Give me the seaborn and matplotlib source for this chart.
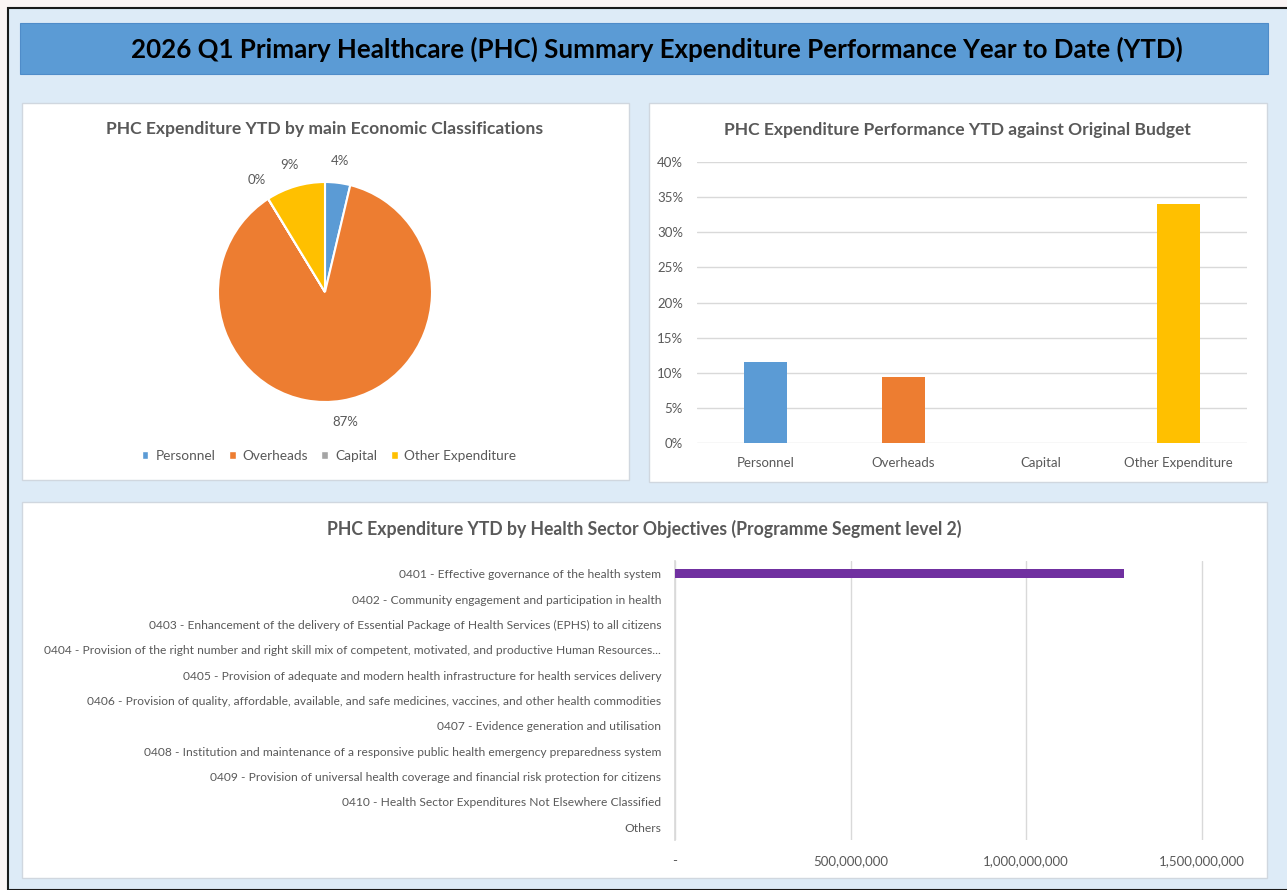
import numpy as np
import pandas as pd
import seaborn as sns
import matplotlib
matplotlib.use('Agg')
import matplotlib.pyplot as plt
from matplotlib.patches import Rectangle, Patch

sns.set_theme(style='white')
plt.rcParams['font.family'] = ['Lato', 'DejaVu Sans']

# 数据
econ_cats = ['Personnel', 'Overheads', 'Capital', 'Other Expenditure']
econ_share = [3.8, 87.3, 0.02, 8.9]          # % of YTD spend
econ_perf = [0.115, 0.094, 0.0, 0.340]       # YTD vs original budget
econ_colors = ['#5B9BD5', '#ED7D31', '#A5A5A5', '#FFC000']

objectives = [
    '0401 - Effective governance of the health system',
    '0402 - Community engagement and participation in health',
    '0403 - Enhancement of the delivery of Essential Package of Health Services (EPHS) to all citizens',
    '0404 - Provision of the right number and right skill mix of competent, motivated, and productive Human Resources...',
    '0405 - Provision of adequate and modern health infrastructure for health services delivery',
    '0406 - Provision of quality, affordable, available, and safe medicines, vaccines, and other health commodities',
    '0407 - Evidence generation and utilisation',
    '0408 - Institution and maintenance of a responsive public health emergency preparedness system',
    '0409 - Provision of universal health coverage and financial risk protection for citizens',
    '0410 - Health Sector Expenditures Not Elsewhere Classified',
    'Others',
]
objective_spend = [1279000000, 0, 0, 0, 0, 0, 0, 0, 0, 0, 0]

W, H = 1287, 890
GREY = '#595959'


def rect(x0, y0, x1, y1):
    return [x0 / W, 1 - y1 / H, (x1 - x0) / W, (y1 - y0) / H]


fig = plt.figure(figsize=(W / 100, H / 100), dpi=100, facecolor='#FBF4F4')

# 背景框
fig.patches.append(Rectangle((8 / W, 0), 1, 1 - 8 / H, transform=fig.transFigure,
                             facecolor='#DDEBF7', edgecolor='#1A1A1A', lw=1.5, zorder=-3))
fig.patches.append(Rectangle((20 / W, 1 - 74 / H), 1248 / W, 51 / H, transform=fig.transFigure,
                             facecolor='#5B9BD5', edgecolor='#4F8CC9', lw=0.8, zorder=-2))
fig.text(657 / W, 1 - 49 / H, '2026 Q1 Primary Healthcare (PHC) Summary Expenditure Performance Year to Date (YTD)',
         ha='center', va='center', fontsize=18.6, fontweight='bold', color='black')

for x0, y0, x1, y1 in [(22, 103, 629, 480), (649, 103, 1267, 482), (22, 502, 1267, 878)]:
    fig.patches.append(Rectangle((x0 / W, 1 - y1 / H), (x1 - x0) / W, (y1 - y0) / H,
                                 transform=fig.transFigure, facecolor='white',
                                 edgecolor='#D0D7DF', lw=1, zorder=-1))

# 饼图
fig.text(325 / W, 1 - 129 / H, 'PHC Expenditure YTD by main Economic Classifications',
         ha='center', va='center', fontsize=12.6, fontweight='bold', color=GREY)
ax1 = fig.add_axes(rect(218, 182, 432, 402))
wedges, _, autotexts = ax1.pie(econ_share, colors=econ_colors, startangle=90, counterclock=False,
                               autopct=lambda p: f'{p:.0f}%', pctdistance=1.2,
                               wedgeprops=dict(edgecolor='white', linewidth=1.5),
                               textprops=dict(color=GREY, fontsize=9.5))
ax1.set_xlim(-1, 1)
ax1.set_ylim(-1, 1)
ax1.set_aspect('auto')
handles = [Patch(facecolor=c, label=l) for c, l in zip(econ_colors, econ_cats)]
fig.legend(handles=handles, loc='center', bbox_to_anchor=(329 / W, 1 - 456 / H), ncol=4,
           frameon=False, handlelength=0.5, handleheight=0.5, handletextpad=0.5,
           columnspacing=1.0, labelcolor=GREY, fontsize=9.8)

# 柱状图
fig.text(957 / W, 1 - 130 / H, 'PHC Expenditure Performance YTD against Original Budget',
         ha='center', va='center', fontsize=12.6, fontweight='bold', color=GREY)
ax2 = fig.add_axes(rect(697, 162, 1247, 443))
df_perf = pd.DataFrame({'cat': econ_cats, 'val': econ_perf})
sns.barplot(data=df_perf, x='cat', y='val', hue='cat', palette=econ_colors, legend=False,
            width=0.31, ax=ax2, saturation=1, linewidth=0, zorder=3)
ax2.set_ylim(0, 0.4)
ax2.set_xlim(-0.5, 3.5)
ax2.set_yticks(np.arange(0, 0.41, 0.05))
ax2.set_yticklabels([f'{int(round(v * 100))}%' for v in np.arange(0, 0.41, 0.05)])
ax2.grid(axis='y', color='#D9D9D9', lw=1, zorder=0)
ax2.set_axisbelow(True)
for s in ax2.spines.values():
    s.set_visible(False)
ax2.set_facecolor('none')
ax2.set_xlabel('')
ax2.set_ylabel('')
ax2.tick_params(axis='both', length=0, labelsize=9.5, labelcolor=GREY)
ax2.tick_params(axis='x', pad=10)
ax2.tick_params(axis='y', pad=10)

# 横向条形图
fig.text(644 / W, 1 - 529 / H, 'PHC Expenditure YTD by Health Sector Objectives (Programme Segment level 2)',
         ha='center', va='center', fontsize=12.7, fontweight='bold', color=GREY)
ax3 = fig.add_axes(rect(675, 561, 1250, 840))
df_obj = pd.DataFrame({'obj': objectives, 'val': objective_spend})
sns.barplot(data=df_obj, x='val', y='obj', color='#7030A0', saturation=1, width=0.35,
            orient='h', ax=ax3, linewidth=0, zorder=3)
ax3.set_xlim(0, 1.638e9)
ax3.set_ylim(10.5, -0.5)
ticks = [0, 5e8, 1e9, 1.5e9]
ax3.set_xticks(ticks)
ax3.set_xticklabels(['-'] + [f'{int(t):,}' for t in ticks[1:]])
ax3.grid(axis='x', color='#D9D9D9', lw=1, zorder=0)
ax3.set_axisbelow(True)
for s in ax3.spines.values():
    s.set_visible(False)
ax3.spines['left'].set_visible(True)
ax3.spines['left'].set_color('#D9D9D9')
ax3.set_facecolor('none')
ax3.set_xlabel('')
ax3.set_ylabel('')
ax3.tick_params(axis='both', length=0, labelcolor=GREY)
ax3.tick_params(axis='x', labelsize=9.5, pad=11)
ax3.tick_params(axis='y', labelsize=8.65, pad=10)

fig.savefig('out.png', dpi=100, facecolor=fig.get_facecolor())
